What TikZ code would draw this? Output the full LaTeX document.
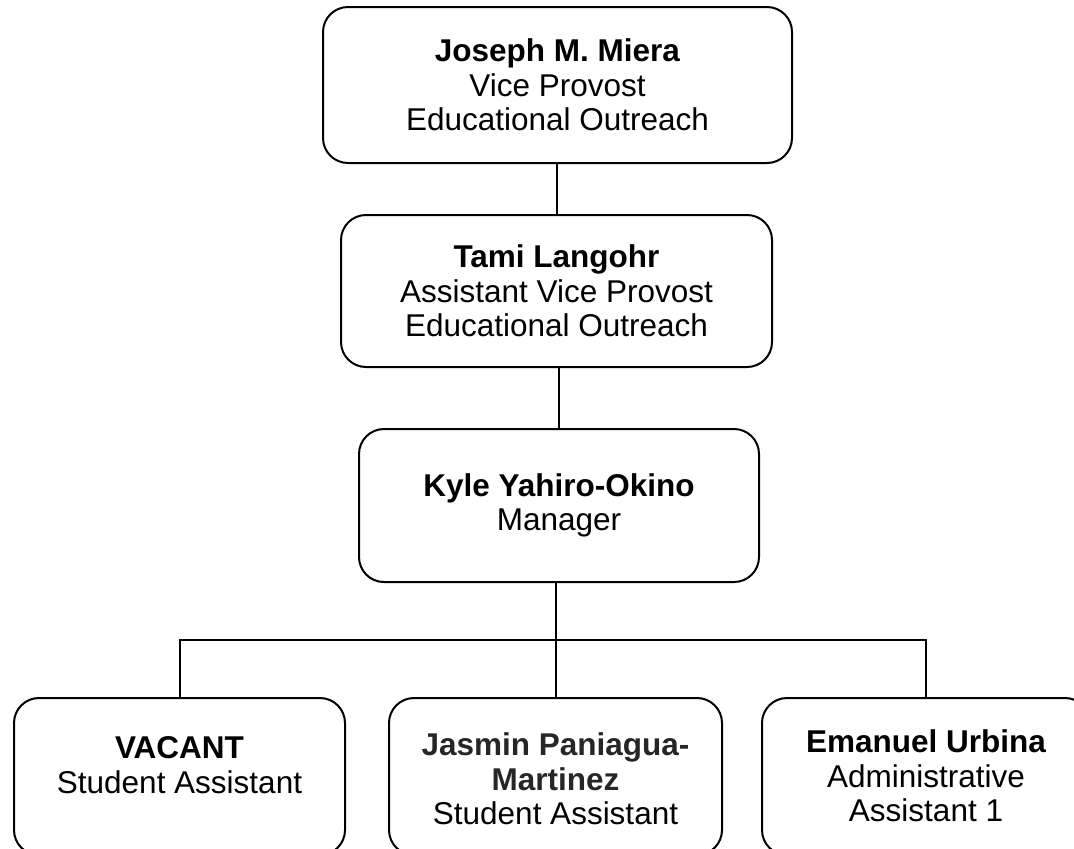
\documentclass[tikz,border=0pt]{standalone}
\usepackage{fontspec}
\setmainfont{Liberation Sans}
\usepackage{tikz}

\begin{document}
\begin{tikzpicture}[x=0.5pt,y=-0.5pt,line width=1pt,
    unit box/.style={draw,rounded corners=12.5pt,inner sep=0pt,align=center,font=\fontsize{15.75pt}{17.25pt}\selectfont},
    unit text/.style={align=center,inner sep=0pt,font=\fontsize{15.75pt}{17.25pt}\selectfont}]
    \useasboundingbox (0,0) rectangle (1074,848);
    \clip (0,0) rectangle (1074,848);
    \node[unit box,minimum width=234.5pt,minimum height=78pt] (vp) at (557.5,85) {\textbf{Joseph M. Miera}\\Vice Provost\\Educational Outreach};
    \node[unit box,minimum width=215.5pt,minimum height=76pt] (avp) at (556.5,291) {\textbf{Tami Langohr}\\Assistant Vice Provost\\Educational Outreach};
    \node[unit box,minimum width=200pt,minimum height=76.5pt] (mgr) at (559,505.5) {\textbf{Kyle Yahiro-Okino}\\Manager};
    \node[unit box,minimum width=165.5pt,minimum height=78.5pt] (vacant) at (179.5,776.5) {};
    \node[unit box,minimum width=166.5pt,minimum height=78.5pt] (student) at (555.5,776.5) {};
    \node[unit box,minimum width=164pt,minimum height=78.5pt] (admin) at (926,776.5) {};
    \node[unit text] (vacant text) at (179.5,765) {\textbf{VACANT}\\Student Assistant};
    \node[unit text] (student text) at (555.5,779) {\textcolor{black!85}{\textbf{Jasmin Paniagua-}}\\\textcolor{black!85}{\textbf{Martinez}}\\Student Assistant};
    \node[unit text] (admin text) at (926,776) {\textbf{Emanuel Urbina}\\Administrative\\Assistant 1};
    \coordinate (bar) at (0,640);
    \draw (avp.north |- vp.south) -- (avp.north);
    \draw (mgr.north |- avp.south) -- (mgr.north);
    \draw (student.north |- mgr.south) -- (student.north);
    \draw (vacant.north) -- (vacant.north |- bar) -| (admin.north);
\end{tikzpicture}
\end{document}
